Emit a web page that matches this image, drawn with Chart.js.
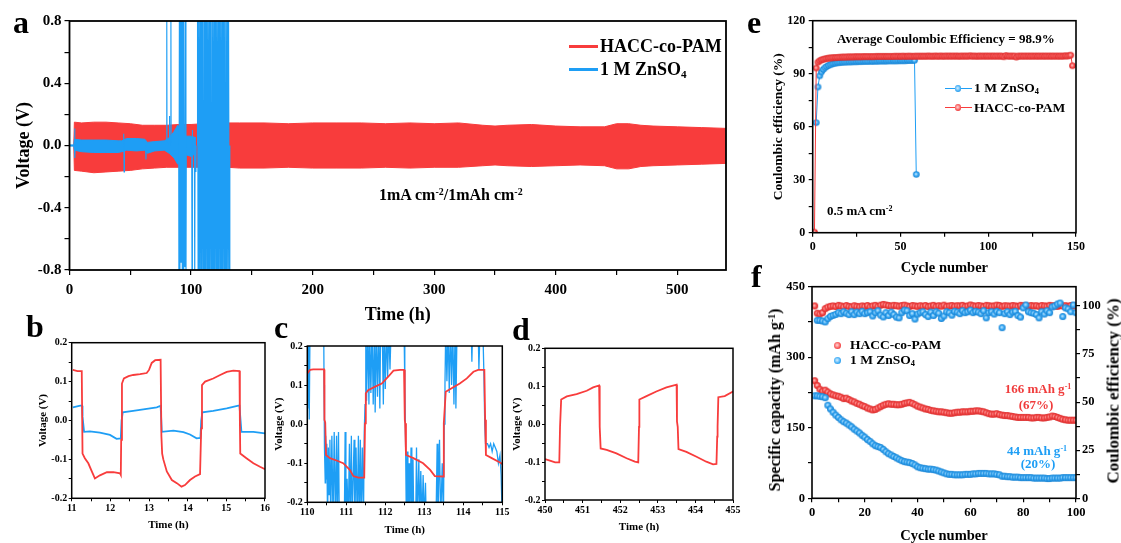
<!DOCTYPE html>
<html><head><meta charset="utf-8">
<script src="https://cdn.jsdelivr.net/npm/chart.js@4.4.0/dist/chart.umd.min.js"></script>
<style>
html,body{margin:0;padding:0;background:#fff;overflow:hidden;}
#wrap{position:relative;width:1121px;height:543px;overflow:hidden;font-family:'Liberation Serif','Times New Roman',serif;font-weight:bold;color:#000;}
#wrap canvas{position:absolute;left:0;top:0;}
.t{position:absolute;white-space:nowrap;line-height:1;z-index:5;}
.t sup,.t sub{font-size:0.62em;line-height:0;}
.t sup{vertical-align:0.55em;}
.t sub{vertical-align:-0.25em;}
.lab{font-size:32px;}
.ln{position:absolute;z-index:5;}
.dot{position:absolute;border-radius:50%;z-index:6;}
.rot{position:absolute;white-space:nowrap;line-height:1;z-index:5;transform:translate(-50%,-50%) rotate(-90deg);}
</style></head><body>
<div id="wrap">
<canvas id="ca" width="1121" height="560"></canvas>
<canvas id="cb" width="1121" height="560"></canvas>
<canvas id="cc" width="1121" height="560"></canvas>
<canvas id="cd" width="1121" height="560"></canvas>
<canvas id="ce" width="1121" height="560"></canvas>
<canvas id="cf" width="1121" height="560"></canvas>

<div class="t lab" style="left:13px;top:6px;">a</div>
<div class="t lab" style="left:26px;top:310px;">b</div>
<div class="t lab" style="left:274px;top:311px;">c</div>
<div class="t lab" style="left:512px;top:313px;">d</div>
<div class="t lab" style="left:747px;top:6px;">e</div>
<div class="t lab" style="left:751px;top:260px;">f</div>

<!-- legend a -->
<div class="ln" style="left:569px;top:44.5px;width:29px;height:3px;background:#F83C3C;"></div>
<div class="t" style="left:600px;top:37px;font-size:18px;">HACC-co-PAM</div>
<div class="ln" style="left:569px;top:67.5px;width:29px;height:3px;background:#1E9EF5;"></div>
<div class="t" style="left:600px;top:60px;font-size:18px;">1 M ZnSO<sub>4</sub></div>
<div class="t" style="left:379px;top:186.6px;font-size:16px;">1mA cm<sup>-2</sup>/1mAh cm<sup>-2</sup></div>

<!-- panel e texts -->
<div class="t" style="left:837px;top:32.4px;font-size:13px;">Average Coulombic Efficiency = 98.9%</div>
<div class="t" style="left:827px;top:204px;font-size:13px;">0.5 mA cm<sup>-2</sup></div>
<div class="ln" style="left:945px;top:87.8px;width:27px;height:1.2px;background:#1E9EF5;"></div>
<div class="dot" style="left:954.5px;top:85px;width:6.5px;height:6.5px;background:radial-gradient(circle at 45% 45%,#d8f0ff 0%,#3aaaf5 60%,#1580d0 100%);"></div>
<div class="t" style="left:974px;top:80.7px;font-size:13.5px;">1 M ZnSO<sub>4</sub></div>
<div class="ln" style="left:945px;top:106.8px;width:27px;height:1.2px;background:#F83C3C;"></div>
<div class="dot" style="left:954.5px;top:104px;width:6.5px;height:6.5px;background:radial-gradient(circle at 45% 45%,#ffd8d8 0%,#f85050 60%,#d02020 100%);"></div>
<div class="t" style="left:974px;top:100.7px;font-size:13.5px;">HACC-co-PAM</div>

<!-- panel f texts -->
<div class="dot" style="left:833.5px;top:341.5px;width:7px;height:7px;background:radial-gradient(circle at 45% 45%,#ffd8d8 0%,#f85050 60%,#d02020 100%);"></div>
<div class="t" style="left:850px;top:338.2px;font-size:13.5px;">HACC-co-PAM</div>
<div class="dot" style="left:833.5px;top:357px;width:7px;height:7px;background:radial-gradient(circle at 45% 45%,#d8f0ff 0%,#3aaaf5 60%,#1580d0 100%);"></div>
<div class="t" style="left:850px;top:352.7px;font-size:13.5px;">1 M ZnSO<sub>4</sub></div>
<div class="t" style="left:988px;width:100px;text-align:center;top:382.4px;font-size:13px;color:#F03C3C;">166 mAh g<sup>-1</sup></div>
<div class="t" style="left:986px;width:100px;text-align:center;top:398.4px;font-size:13px;color:#F03C3C;">(67%)</div>
<div class="t" style="left:987px;width:100px;text-align:center;top:444.1px;font-size:13px;color:#1E9EF5;">44 mAh g<sup>-1</sup></div>
<div class="t" style="left:988px;width:100px;text-align:center;top:457.4px;font-size:13px;color:#1E9EF5;">(20%)</div>
<div class="rot" style="left:775px;top:400px;font-size:16px;">Specific capacity (mAh g<sup style="font-size:0.62em;line-height:0;vertical-align:0.55em">-1</sup>)</div>
<div class="rot" style="left:1113px;top:391px;font-size:17px;">Coulombic efficiency (%)</div>
</div>

<script>
// ---------------- DATA ----------------
// Panel a: envelopes of the HACC-co-PAM voltage band (time in h, voltage in V)
const aRedT  = [0, 3.5, 4, 10, 20, 30, 40, 50, 60, 70, 80, 90, 100, 110, 120, 130, 140, 160, 180, 200, 220, 240, 260, 280, 300, 320, 340, 350, 360, 380, 400, 420, 440, 450, 460, 470, 480, 500, 520, 540];
const aRedHi = [0, 0, 0.15, 0.145, 0.15, 0.15, 0.145, 0.14, 0.13, 0.13, 0.13, 0.135, 0.135, 0.14, 0.14, 0.145, 0.145, 0.145, 0.14, 0.145, 0.145, 0.145, 0.14, 0.145, 0.14, 0.145, 0.13, 0.125, 0.13, 0.135, 0.125, 0.12, 0.12, 0.14, 0.14, 0.13, 0.125, 0.12, 0.115, 0.11];
const aRedLo = [0, 0, -0.16, -0.165, -0.175, -0.17, -0.165, -0.16, -0.15, -0.145, -0.14, -0.14, -0.14, -0.14, -0.14, -0.14, -0.145, -0.145, -0.14, -0.145, -0.145, -0.145, -0.14, -0.145, -0.14, -0.14, -0.13, -0.125, -0.13, -0.135, -0.13, -0.125, -0.13, -0.15, -0.15, -0.135, -0.13, -0.125, -0.12, -0.115];
// Panel a: envelope of the 1 M ZnSO4 band
const aBlueBandT  = [0, 3.5, 4, 10, 20, 30, 40, 43, 47, 55, 62, 64, 70, 78, 82, 86, 89, 92, 96, 100, 104];
const aBlueBandHi = [0.004, 0.004, 0.04, 0.035, 0.035, 0.035, 0.03, 0.03, 0.045, 0.045, 0.04, 0.02, 0.025, 0.03, 0.05, 0.09, 0.13, 0.1, 0.06, 0.06, 0.05];
const aBlueBandLo = [-0.004, -0.004, -0.03, -0.04, -0.045, -0.045, -0.045, -0.04, -0.03, -0.035, -0.03, -0.05, -0.035, -0.03, -0.05, -0.08, -0.12, -0.1, -0.06, -0.07, -0.05];
// Panel a: 1 M ZnSO4 spikes / short circuits (null = break)
const aBlueT = [4.0,4.2,4.5,4.8,null, 44.3,44.6,44.9,45.2,null, 62.6,62.9,63.2,null, 79.8,80.0,80.2,null, 82.0,82.2,82.4,null, 83.2,83.4,83.6,null,
  89.8,90.0,90.4,90.8,91.2,91.5,92.0,92.3,92.8,93.1,93.6,94.0,94.5,95.0,95.4,95.8,96.1,null,
  100.5,100.8,101.1,null, 102.7,103.0,103.3,null, 103.8,104.0,104.2,null,
  105.0,105.3,105.8,106.3,106.8,107.4,107.9,108.4,108.9,109.5,110.0,110.6,111.1,111.6,112.1,112.7,113.2,113.7,114.3,114.8,115.3,115.9,116.4,117.0,117.5,118.0,118.6,119.1,119.6,120.2,120.7,121.2,121.8,122.3,122.8,123.4,123.9,124.4,125.0,125.5,126.0,126.6,127.1,127.6,128.2,128.7,129.2,129.8,130.3,130.8,131.4,131.9];
const aBlueV = [0.0,0.11,-0.08,0.0,null, 0.0,0.075,-0.17,-0.03,null, -0.02,-0.09,0.0,null, 0.02,1.0,0.02,null, 0.02,0.19,0.0,null, 0.02,1.0,0.03,null,
  0.1,-1.0,1.0,-1.0,1.0,-0.75,-0.75,1.0,-1.0,1.0,-1.0,1.0,-0.75,-0.78,1.0,-1.0,0.0,null,
  0.05,-1.0,0.1,null, 0.05,-1.0,0.05,null, 0.0,-0.17,0.0,null,
  0.0,1,-1,1,-1,1,-1,1,-1,1,-1,1,-1,1,-1,1,-1,1,-1,1,-1,1,-1,1,-1,1,-1,1,-1,1,-1,1,-1,1,-1,1,-1,1,-1,1,-1,1,-1,1,-1,1,-1,1,-1,1,-1,0.0];
const aXTicks = [0,50,100,150,200,250,300,350,400,450,500];
const aYTicks = [-0.8,-0.6,-0.4,-0.2,0,0.2,0.4,0.6,0.8];

// Panel b (11-16 h)
const bRedT = [11.03,11.15,11.26,11.28,11.34,11.43,11.52,11.60,11.73,11.91,12.08,12.25,12.27,12.28,12.30,12.35,12.47,12.59,12.77,12.94,13.00,13.07,13.16,13.30,13.32,13.34,13.37,13.46,13.59,13.72,13.84,13.93,14.06,14.19,14.32,14.34,14.35,14.37,14.45,14.66,14.84,15.01,15.18,15.34,15.35,15.36,15.52,15.70,15.87,16.00];
const bRedV = [0.130,0.127,0.127,-0.085,-0.097,-0.110,-0.131,-0.149,-0.141,-0.133,-0.133,-0.136,-0.140,-0.050,0.095,0.108,0.114,0.117,0.119,0.122,0.130,0.148,0.155,0.156,-0.040,-0.085,-0.100,-0.131,-0.153,-0.161,-0.170,-0.166,-0.153,-0.144,-0.138,-0.138,-0.020,0.091,0.100,0.108,0.117,0.125,0.128,0.127,0.000,-0.085,-0.097,-0.110,-0.119,-0.125];
const bBlueT = [11.03,11.22,11.27,11.28,11.32,11.47,11.73,11.99,12.16,12.27,12.29,12.32,12.59,12.94,13.20,13.30,13.33,13.63,13.89,14.06,14.23,14.33,14.35,14.38,14.66,15.01,15.31,15.34,15.36,15.39,15.70,16.00];
const bBlueV = [0.034,0.038,0.038,0.010,-0.029,-0.028,-0.031,-0.037,-0.047,-0.046,0.000,0.021,0.025,0.030,0.034,0.038,-0.029,-0.026,-0.030,-0.036,-0.046,-0.045,0.000,0.021,0.025,0.031,0.038,0.038,0.010,-0.029,-0.029,-0.033];

// Panel c (110-115 h)
const cRedT = [110.00,110.07,110.15,110.43,110.44,110.46,110.48,110.58,110.75,110.92,111.09,111.18,111.31,111.46,111.48,111.50,111.56,111.74,111.91,112.08,112.21,112.38,112.48,112.50,112.51,112.53,112.72,112.97,113.15,113.27,113.49,113.50,113.55,113.70,113.91,114.09,114.26,114.38,114.54,114.56,114.58,114.73,114.94,115.00];
const cRedV = [0.130,0.139,0.140,0.140,0.011,0.004,-0.079,-0.087,-0.093,-0.100,-0.117,-0.133,-0.137,-0.137,0.002,0.079,0.087,0.096,0.104,0.122,0.137,0.139,0.139,0.011,0.002,-0.079,-0.087,-0.100,-0.117,-0.133,-0.134,0.002,0.083,0.092,0.104,0.117,0.134,0.139,0.139,0.011,-0.079,-0.087,-0.098,-0.102];
const cBlueT = [110.00,110.01,110.03,110.05,110.07,110.40,110.42,110.43,110.44,110.46,
  110.47,110.49,110.50,110.52,110.54,110.56,110.58,110.60,110.63,110.66,110.69,110.72,110.75,110.77,110.80,110.82,110.85,110.95,110.97,110.99,111.02,111.05,111.08,111.10,111.13,111.15,111.20,111.22,111.25,111.28,111.31,111.33,111.36,111.38,111.41,111.44,111.46,
  111.48,111.50,111.52,111.55,111.58,111.60,111.63,111.66,111.69,111.72,111.74,111.77,111.80,111.83,111.86,111.88,111.92,111.95,111.97,112.00,112.03,112.06,112.09,112.12,112.15,112.48,
  112.50,112.52,112.54,112.56,112.58,112.61,112.63,112.66,112.68,112.71,112.73,112.78,112.80,112.82,112.86,112.88,112.91,112.94,112.97,113.00,113.03,113.05,113.30,113.33,113.35,113.39,113.42,113.46,113.49,
  113.51,113.53,113.55,113.58,113.61,113.64,113.67,113.70,113.73,113.76,113.79,113.81,113.84,114.20,114.22,114.24,114.38,114.40,114.43,114.50,114.53,114.55,
  114.57,114.62,114.66,114.70,114.74,114.78,114.82,114.86,114.90,114.94,114.97,115.00];
const cBlueV = [0.25,0.04,0.25,0.012,0.25,0.25,0.25,0.10,-0.06,-0.15,
  -0.03,-0.14,-0.05,-0.25,-0.06,-0.18,-0.04,-0.25,-0.03,-0.25,-0.02,-0.25,-0.03,-0.25,-0.02,-0.25,-0.25,-0.25,-0.02,-0.25,-0.14,-0.25,-0.05,-0.25,-0.03,-0.25,-0.04,-0.25,-0.06,-0.25,-0.03,-0.25,-0.04,-0.25,-0.06,-0.25,-0.02,
  0.05,0.25,0.06,0.25,0.05,0.25,0.08,0.25,0.05,0.25,0.03,0.25,0.07,0.25,0.04,0.25,0.25,0.05,0.25,0.09,0.25,0.12,0.25,0.14,0.25,0.25,
  0.10,-0.05,-0.25,-0.07,-0.25,-0.10,-0.25,-0.06,-0.25,-0.09,-0.25,-0.25,-0.06,-0.25,-0.09,-0.25,-0.12,-0.25,-0.13,-0.25,-0.15,-0.25,-0.25,-0.05,-0.25,-0.04,-0.25,-0.10,-0.25,
  0.00,0.10,0.25,0.11,0.25,0.08,0.25,0.10,0.25,0.05,0.25,0.04,0.25,0.25,0.16,0.25,0.25,0.14,0.25,0.25,0.12,0.00,
  -0.05,-0.05,-0.06,-0.05,-0.07,-0.05,-0.06,-0.07,-0.10,-0.08,-0.13,-0.25];

// Panel d (450-455 h)
const dRedT = [450.00,450.13,450.27,450.38,450.40,450.42,450.43,450.58,450.84,451.11,451.28,451.44,451.45,451.46,451.48,451.64,451.90,452.17,452.39,452.48,452.50,452.51,452.70,452.96,453.23,453.50,453.51,453.53,453.55,453.76,454.03,454.29,454.47,454.56,454.58,454.59,454.61,454.78,455.00];
const dRedV = [-0.092,-0.096,-0.101,-0.101,-0.007,-0.007,0.065,0.073,0.079,0.088,0.097,0.102,0.007,-0.007,-0.064,-0.068,-0.077,-0.090,-0.099,-0.101,-0.007,0.065,0.074,0.086,0.097,0.104,0.007,-0.007,-0.066,-0.073,-0.086,-0.099,-0.106,-0.105,-0.033,-0.007,0.071,0.074,0.086];

// Panel e: Coulombic efficiency (%) per cycle
const eRedStart = 1;
const eRed = [0.3,93.2,96.5,97.3,97.8,98.1,98.4,98.6,98.8,98.9,
  99.0,99.1,99.1,99.2,99.3,99.3,99.4,99.4,99.4,99.5,
  99.5,99.5,99.5,99.6,99.6,99.6,99.6,99.6,99.7,99.7,
  99.7,99.7,99.7,99.7,99.7,99.8,99.8,99.8,99.8,99.8,
  99.8,99.8,99.8,99.8,99.8,99.8,99.9,99.8,99.9,99.8,
  99.9,99.9,99.8,99.9,99.9,99.9,99.8,99.9,99.9,99.9,
  99.9,99.9,99.9,99.9,99.9,100.0,99.9,99.9,99.9,100.0,
  99.9,99.9,100.0,99.9,99.9,100.0,99.9,100.0,99.9,100.0,
  99.9,100.0,99.9,99.9,100.0,99.9,100.0,99.9,100.0,100.1,
  99.9,100.0,99.9,99.9,100.0,99.9,100.0,99.9,100.0,99.9,
  100.0,99.9,100.0,99.9,100.0,99.9,100.0,99.9,99.6,100.3,
  100.0,99.9,100.0,99.9,100.0,99.4,100.0,99.9,100.0,99.9,
  100.0,99.9,100.0,99.9,100.0,99.9,100.0,99.9,100.0,99.9,
  100.0,99.9,100.0,99.9,100.0,99.9,100.0,99.9,100.0,99.9,
  100.0,99.9,100.0,100.1,100.0,100.2,100.5,94.5];
const eBlueStart = 2;
const eBlue = [62.3,82.5,88.8,91.0,92.4,93.4,94.1,94.7,95.1,95.5,
  95.8,96.0,96.2,96.3,96.4,96.5,96.6,96.6,96.7,96.7,
  96.7,96.8,96.8,96.8,96.9,96.9,96.9,97.0,97.0,97.0,
  97.0,97.1,97.0,97.1,97.1,97.1,97.2,97.2,97.2,97.2,
  97.2,97.3,97.3,97.3,97.3,97.3,97.3,97.4,97.4,97.4,
  97.4,97.4,97.5,97.5,97.5,97.5,97.6,33.0];

// Panel f: specific capacity (mAh/g) and CE (%) for cycles 1..100
const fRedCap = [250,240,232,228,230,226,222,220,218,217,
  215,212,213,210,207,205,202,200,197,195,
  192,190,188,189,192,195,198,200,201,200,
  200,199,199,200,202,203,204,202,199,196,
  194,192,190,189,187,186,185,184,184,183,
  182,181,181,182,183,183,184,184,184,185,
  185,186,186,185,184,182,180,179,179,180,
  178,177,176,176,175,174,173,172,172,172,
  172,172,171,171,172,172,171,171,172,173,
  175,174,172,170,168,167,166,166,166,166];
const fBlueCap = [218,218,217,216,214,198,190,183,177,172,
  167,163,160,156,152,147,143,139,134,130,
  125,121,116,112,110,108,104,99,95,92,
  89,86,83,80,78,77,76,74,71,67,
  65,64,63,62,62,61,60,58,56,54,
  52,51,51,50,50,50,50,51,51,51,
  52,52,53,53,53,53,52,52,52,51,
  50,47,47,46,46,45,45,45,44,44,
  44,44,44,43,43,43,43,43,42,42,
  43,43,43,43,44,44,44,44,44,44];
const fRedCE = [100.0,96.2,95.8,96.5,98.6,99.4,99.8,100.0,99.7,100.3,
  100.0,99.6,100.2,99.8,99.5,100.1,99.8,99.6,100.0,99.8,
  100.2,99.6,100.0,100.3,99.8,100.4,100.8,100.5,100.2,100.0,
  100.3,100.1,99.9,100.2,100.4,100.0,99.7,100.2,100.0,99.8,
  100.1,99.9,100.2,99.7,100.0,100.3,99.8,100.1,99.9,100.4,
  99.8,100.0,100.2,99.9,100.1,100.0,100.3,99.8,100.0,100.5,
  100.1,99.9,100.2,100.0,99.7,100.3,100.1,99.9,100.0,100.4,
  100.2,99.8,100.1,100.0,99.9,100.2,100.0,99.8,100.3,100.1,
  100.0,99.9,100.2,100.0,100.1,99.8,100.2,100.0,99.9,100.3,
  100.1,100.0,99.8,100.2,100.0,100.1,99.9,100.2,100.0,100.1];
const fBlueCE = [null,92.5,92.5,92.2,91.7,93.4,94.6,95.1,95.6,96.5,
  96.0,97.0,96.2,95.5,97.0,95.5,96.8,96.0,97.2,96.0,
  96.5,97.0,94.8,96.5,97.5,95.2,94.3,96.5,95.0,96.8,
  95.5,94.2,93.8,96.5,97.8,97.5,95.0,96.0,93.2,95.8,
  96.5,97.0,95.5,94.5,96.8,95.0,97.0,96.2,93.5,94.8,
  97.0,96.5,95.2,97.2,96.8,96.0,97.5,96.5,97.0,97.8,
  96.5,97.2,96.8,96.0,97.5,93.8,96.5,97.0,95.8,97.2,
  96.5,88.7,96.0,97.0,95.5,96.8,97.2,95.0,94.2,99.0,
  100.5,97.0,96.5,96.2,95.5,93.8,97.0,95.8,97.5,96.5,
  99.5,100.0,101.0,101.5,94.5,99.0,98.5,97.0,100.5,96.5];

// ---------------- RENDERING ----------------
const W = 1121, H = 560;
const RED = '#F83C3C', BLUE = '#1E9EF5';
Chart.defaults.font.family = "'Liberation Serif','Times New Roman',serif";
Chart.defaults.font.weight = 'bold';
Chart.defaults.color = '#000';

const pts = (t, v) => t.map((x, i) => (x === null ? {x: NaN, y: null} : {x: x, y: v[i]}));
const seq = (start, v) => v.map((y, i) => ({x: start + i, y: y}));
const range = (a, b, s) => { const r = []; for (let k = 0; a + k * s <= b + 1e-9; k++) r.push(+(a + k * s).toFixed(6)); return r; };
const isMul = (v, e) => Math.abs(v / e - Math.round(v / e)) < 1e-6;
const f1 = v => (Math.abs(v) < 1e-9 ? 0 : v).toFixed(1);
const f0 = v => String(Math.round(v));

const framePlugin = {
  id: 'frame',
  afterDatasetsDraw(chart, args, opts) {
    const {ctx, chartArea: a} = chart;
    ctx.save(); ctx.strokeStyle = '#000'; ctx.lineWidth = opts.w || 1.5;
    ctx.strokeRect(a.left, a.top, a.right - a.left, a.bottom - a.top);
    ctx.restore();
  }
};

function axis(o) {
  return {
    type: 'linear', position: o.pos, min: o.min, max: o.max,
    afterBuildTicks: s => { s.ticks = o.ticks.map(v => ({value: v})); },
    afterFit: s => { if (o.pos === 'left' || o.pos === 'right') s.width = o.fit; else s.height = o.fit; },
    ticks: {autoSkip: false, maxRotation: 0, minRotation: 0, padding: o.pad, color: '#000',
      font: {size: o.fs, weight: 'bold'}, callback: v => (isMul(v, o.every) ? o.fmt(v) : '')},
    grid: {drawOnChartArea: false, drawTicks: true, tickLength: o.tl, color: '#000', lineWidth: o.lw || 1.2},
    border: {display: false},
    title: o.title ? {display: true, text: o.title, color: '#000', font: {size: o.tfs, weight: 'bold'}, padding: 0} : {display: false}
  };
}

function make(id, rect, yw, xh, yrw, scales, datasets, fw) {
  return new Chart(document.getElementById(id), {
    type: 'line',
    data: {datasets: datasets},
    options: {
      responsive: false, animation: false, events: [],
      layout: {padding: {left: rect[0] - yw, top: rect[1], right: W - rect[2] - yrw, bottom: H - rect[3] - xh}},
      plugins: {legend: {display: false}, tooltip: {enabled: false}, frame: {w: fw}},
      elements: {point: {radius: 0}, line: {tension: 0}},
      scales: scales
    },
    plugins: [framePlugin]
  });
}

function sphere(col, light, dark, r) {
  const s = Math.ceil(r * 2 + 2), c = document.createElement('canvas');
  c.width = c.height = s;
  const g = c.getContext('2d'), m = s / 2;
  const gr = g.createRadialGradient(m - r * 0.15, m - r * 0.15, 0, m, m, r);
  gr.addColorStop(0, light); gr.addColorStop(0.55, col); gr.addColorStop(1, dark);
  g.fillStyle = gr; g.beginPath(); g.arc(m, m, r, 0, Math.PI * 2); g.fill();
  return c;
}
const redBall = sphere('#f85050', '#ffd8d8', '#d82828', 3.3);
const blueBall = sphere('#3aaaf5', '#d8f0ff', '#1580d0', 3.3);
const redBallF = sphere('#f85050', '#ffd8d8', '#d82828', 3.5);
const blueBallF = sphere('#3aaaf5', '#d8f0ff', '#1580d0', 3.5);

// Panel a
make('ca', [69.5, 21, 726, 270], 56, 56, 0, {
  x: axis({pos: 'bottom', min: 0, max: 540, ticks: aXTicks, every: 100, fmt: f0, fs: 15, tl: 5, pad: 6, fit: 56, title: 'Time (h)', tfs: 18}),
  y: axis({pos: 'left', min: -0.8, max: 0.8, ticks: aYTicks, every: 0.4, fmt: f1, fs: 15, tl: 5, pad: 3, fit: 56, title: 'Voltage (V)', tfs: 18})
}, [
  {data: pts(aBlueT, aBlueV), borderColor: BLUE, borderWidth: 1.1, spanGaps: false, fill: false},
  {data: pts(aBlueBandT, aBlueBandHi), borderColor: BLUE, backgroundColor: BLUE, borderWidth: 1, fill: '+1'},
  {data: pts(aBlueBandT, aBlueBandLo), borderColor: BLUE, borderWidth: 1, fill: false},
  {data: pts(aRedT, aRedHi), borderColor: RED, backgroundColor: RED, borderWidth: 1, fill: '+1'},
  {data: pts(aRedT, aRedLo), borderColor: RED, borderWidth: 1, fill: false}
], 1.8);

const smallAxes = (xmin, xmax, yw, xh) => ({
  x: axis({pos: 'bottom', min: xmin, max: xmax, ticks: range(xmin, xmax, 0.5), every: 1, fmt: f0, fs: 10, tl: 3, pad: 1.5, fit: xh, title: 'Time (h)', tfs: 11, lw: 1}),
  y: axis({pos: 'left', min: -0.2, max: 0.2, ticks: range(-0.2, 0.2, 0.05), every: 0.1, fmt: f1, fs: 10, tl: 3, pad: 1.5, fit: yw, title: 'Voltage (V)', tfs: 11, lw: 1})
});

// Panel b
make('cb', [71.7, 342.7, 265, 498.3], 35, 33.3, 0, smallAxes(11, 16, 35, 33.3), [
  {data: pts(bRedT, bRedV), borderColor: RED, borderWidth: 1.8},
  {data: pts(bBlueT, bBlueV), borderColor: BLUE, borderWidth: 1.8}
], 1.5);

// Panel c
make('cc', [307.3, 346, 502.3, 502.3], 35, 34.3, 0, smallAxes(110, 115, 35, 34.3), [
  {data: pts(cRedT, cRedV), borderColor: RED, borderWidth: 1.8},
  {data: pts(cBlueT, cBlueV), borderColor: BLUE, borderWidth: 1.3}
], 1.5);

// Panel d
make('cd', [545, 348.3, 733, 500], 34, 34, 0, smallAxes(450, 455, 34, 34), [
  {data: pts(dRedT, dRedV), borderColor: RED, borderWidth: 1.8}
], 1.5);

// Panel e
make('ce', [812.7, 20.7, 1076, 232.7], 42.5, 44, 0, {
  x: axis({pos: 'bottom', min: 0, max: 150, ticks: range(0, 150, 25), every: 50, fmt: f0, fs: 12, tl: 4, pad: 3, fit: 44, title: 'Cycle number', tfs: 14.5}),
  y: axis({pos: 'left', min: 0, max: 120, ticks: range(0, 120, 15), every: 30, fmt: f0, fs: 12, tl: 4, pad: 3.5, fit: 42.5, title: 'Coulombic efficiency (%)', tfs: 13.5})
}, [
  {data: seq(eRedStart, eRed), borderColor: RED, borderWidth: 1, pointStyle: redBall, pointRadius: 3.3},
  {data: seq(eBlueStart, eBlue), borderColor: BLUE, borderWidth: 1, pointStyle: blueBall, pointRadius: 3.3}
], 1.6);

// Panel f
make('cf', [812, 286.7, 1076, 498.3], 30, 47, 30, {
  x: axis({pos: 'bottom', min: 0, max: 100, ticks: range(0, 100, 10), every: 20, fmt: f0, fs: 12.5, tl: 4, pad: 2.5, fit: 47, title: 'Cycle number', tfs: 14.5}),
  y: axis({pos: 'left', min: 0, max: 450, ticks: range(0, 450, 75), every: 150, fmt: f0, fs: 12.5, tl: 4, pad: 3, fit: 30}),
  y2: axis({pos: 'right', min: 0, max: 110, ticks: range(0, 100, 12.5), every: 25, fmt: f0, fs: 12.5, tl: 4, pad: 2, fit: 30})
}, [
  {data: seq(1, fBlueCE), yAxisID: 'y2', showLine: false, pointStyle: blueBallF, pointRadius: 3.5},
  {data: seq(1, fBlueCap), yAxisID: 'y', showLine: false, pointStyle: blueBallF, pointRadius: 3.5},
  {data: seq(1, fRedCE), yAxisID: 'y2', showLine: false, pointStyle: redBallF, pointRadius: 3.5},
  {data: seq(1, fRedCap), yAxisID: 'y', showLine: false, pointStyle: redBallF, pointRadius: 3.5}
], 1.6);
</script>
</body></html>
